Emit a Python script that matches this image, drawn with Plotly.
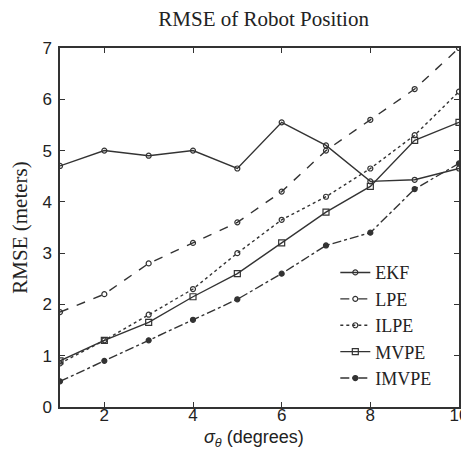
import plotly.graph_objects as go

sigma = [1, 2, 3, 4, 5, 6, 7, 8, 9, 10]
ekf = [4.7, 5.0, 4.9, 5.0, 4.65, 5.55, 5.1, 4.4, 4.43, 4.65]
lpe = [1.85, 2.2, 2.8, 3.2, 3.6, 4.2, 5.0, 5.6, 6.2, 7.0]
ilpe = [0.85, 1.3, 1.8, 2.3, 3.0, 3.65, 4.1, 4.65, 5.3, 6.15]
mvpe = [0.9, 1.3, 1.65, 2.15, 2.6, 3.2, 3.8, 4.3, 5.2, 5.55]
imvpe = [0.5, 0.9, 1.3, 1.7, 2.1, 2.6, 3.15, 3.4, 4.25, 4.75]

ink = "#333333"
serif = "Liberation Serif"
sans = "Liberation Sans"

series = [
    ("EKF", ekf, "solid", "circle-open", 5),
    ("LPE", lpe, "dash", "circle-open", 5),
    ("ILPE", ilpe, "dot", "circle-open", 5),
    ("MVPE", mvpe, "solid", "square-open", 6),
    ("IMVPE", imvpe, "dashdot", "circle", 5),
]

fig = go.Figure()
for name, vals, dash, sym, sz in series:
    fig.add_trace(go.Scatter(
        x=sigma, y=vals, name=name, mode="lines+markers",
        line=dict(color=ink, width=1.4, dash=dash),
        marker=dict(symbol=sym, size=sz, color=ink, line=dict(color=ink, width=1.2)),
    ))

fig.update_layout(
    width=469, height=450,
    margin=dict(l=52, r=9, t=40, b=51),
    plot_bgcolor="white", paper_bgcolor="white",
    title=dict(text="RMSE of Robot Position", x=0.545, xanchor="center",
               y=0.993, yanchor="top", pad=dict(t=0, b=0),
               font=dict(family=serif, size=21, color="#222")),
    legend=dict(x=0.69, y=0.03, xanchor="left", yanchor="bottom",
                bgcolor="rgba(0,0,0,0)", borderwidth=0, tracegroupgap=0,
                font=dict(family=serif, size=18, color="#222")),
    font=dict(family=sans, size=17, color="#222"),
)
fig.update_xaxes(range=[1, 10], tickvals=[2, 4, 6, 8, 10], ticks="inside", ticklen=5,
                 tickcolor=ink, showgrid=False, zeroline=False, showline=True,
                 linecolor=ink, linewidth=1.5, mirror="ticks", ticklabelstandoff=-8)
fig.update_yaxes(range=[0, 7], dtick=1, ticks="inside", ticklen=5,
                 tickcolor=ink, showgrid=False, zeroline=False, showline=True,
                 linecolor=ink, linewidth=1.5, mirror="ticks", ticklabelstandoff=3,
                 title=dict(text="RMSE (meters)", standoff=9,
                            font=dict(family=serif, size=21)))

# x-axis title as a free annotation so it sits where the reference has it
fig.add_annotation(text="<i>σ</i><sub><i>θ</i></sub> (degrees)", xref="paper", yref="paper",
                   x=0.485, y=-0.088, xanchor="center", yanchor="middle", showarrow=False,
                   font=dict(family=sans, size=18, color="#222"))

fig.write_html("out.html")
